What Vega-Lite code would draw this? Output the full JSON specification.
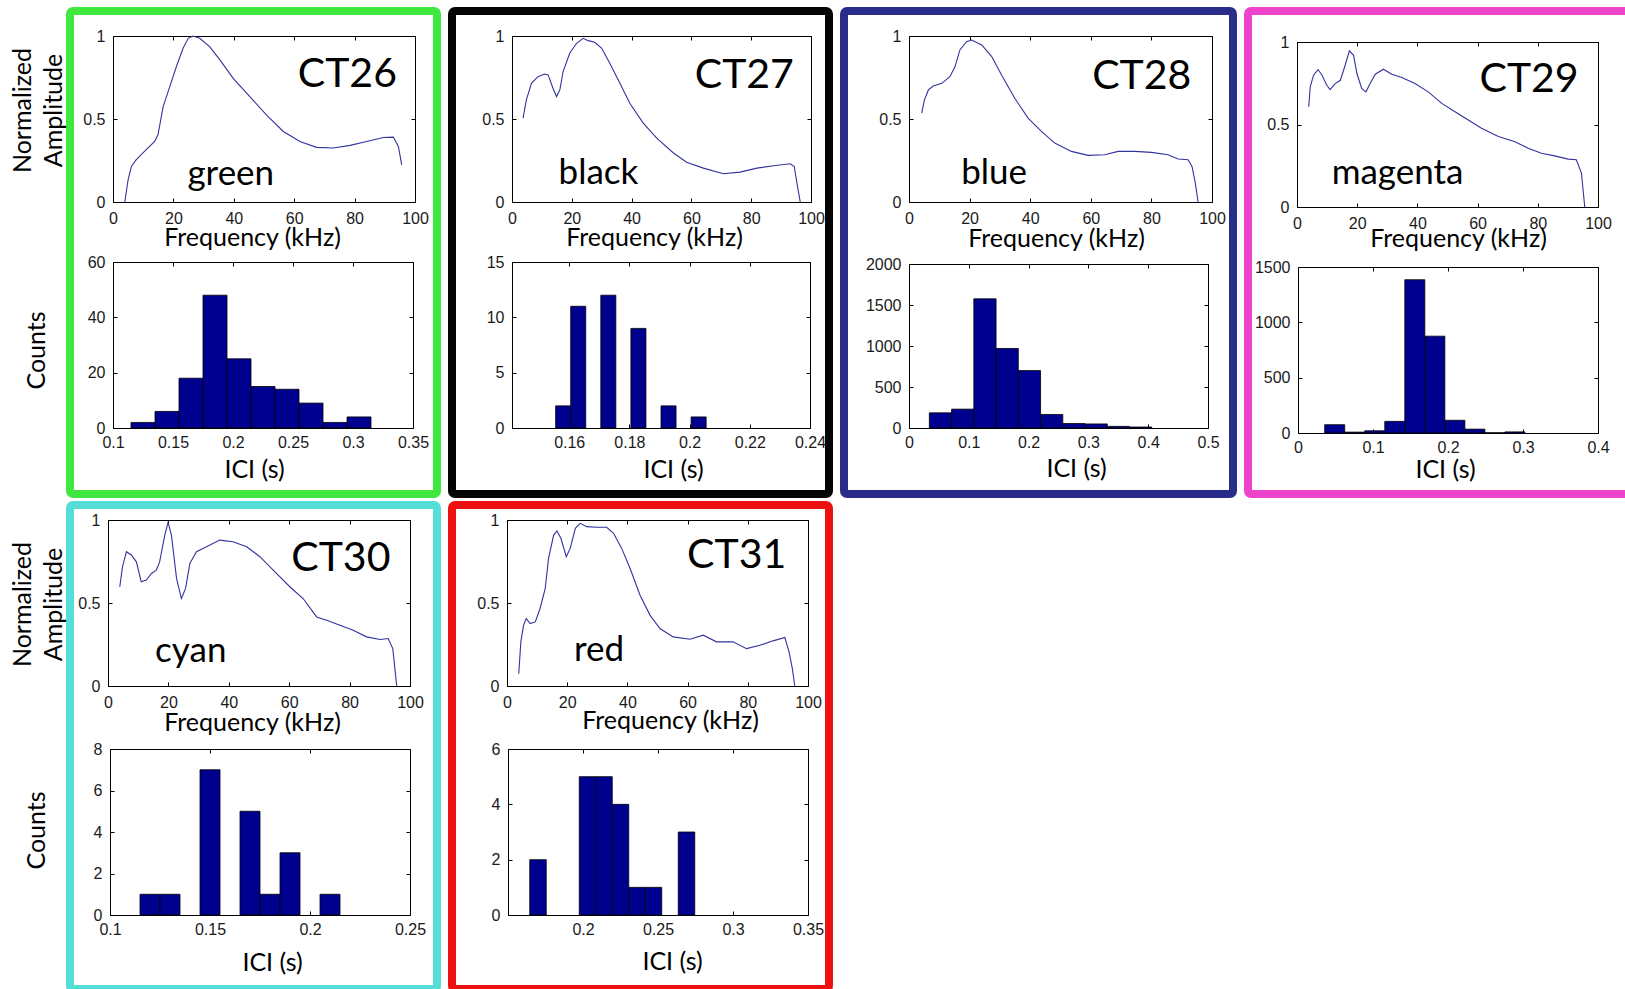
{
"$schema": "https://vega.github.io/schema/vega-lite/v6.json",
"background": "#ffffff",
"padding": {"left": 6, "top": 7, "right": 0, "bottom": 0},
"columns": 4,
"spacing": {"row": 11, "column": 15},
"bounds": "flush",
"align": "each",
"config": {
  "axis": {"grid": false, "domainColor": "#000", "domainWidth": 1, "tickColor": "#000", "tickSize": -4, "tickWidth": 1, "labelFont": "Liberation Sans", "labelFontSize": 16, "labelColor": "#1a1a1a", "labelPadding": 12, "labelFlush": false, "labelOverlap": false, "titleFont": "Lato", "titleFontSize": 25, "titleFontWeight": "normal", "titleColor": "#000"},
  "axisBottom": {"titleBaseline": "alphabetic", "titleAngle": 0, "titleAlign": "center"},
  "axisLeft": {"titleBaseline": "middle", "titleAngle": 270, "titleAlign": "center", "titleLineHeight": 31, "labelPadding": 12},
  "text": {"font": "Lato", "color": "#000", "align": "center", "baseline": "alphabetic"}
},
"concat": [
{
 "width": 367, "height": 483,
 "view": {"stroke": "#3fe73f", "strokeWidth": 8, "cornerRadius": 3},
 "resolve": {"scale": {"x": "independent", "y": "independent"}, "axis": {"x": "independent", "y": "independent"}},
 "layer": [
  {"resolve": {"axis": {"x": "independent", "y": "independent"}},
   "layer": [
    {"data": {"values": [{"f":3.9,"a":0},{"f":5.0,"a":0.134},{"f":6.1,"a":0.214},{"f":7.7,"a":0.255},{"f":11,"a":0.315},{"f":13.8,"a":0.365},{"f":14.9,"a":0.405},{"f":16.6,"a":0.575},{"f":18.8,"a":0.695},{"f":21,"a":0.816},{"f":23.2,"a":0.926},{"f":24.9,"a":0.986},{"f":26.5,"a":1.0},{"f":28.7,"a":0.986},{"f":32,"a":0.936},{"f":35.4,"a":0.856},{"f":39.8,"a":0.745},{"f":45.3,"a":0.635},{"f":50.8,"a":0.525},{"f":56.4,"a":0.425},{"f":61.9,"a":0.365},{"f":67.4,"a":0.329},{"f":72.9,"a":0.325},{"f":78.5,"a":0.341},{"f":84,"a":0.365},{"f":89.5,"a":0.389},{"f":92.8,"a":0.391},{"f":94.5,"a":0.335},{"f":95.6,"a":0.224}]},
     "mark": {"type": "line", "color": "#33339f", "strokeWidth": 1.1},
     "encoding": {
      "x": {"field": "f", "type": "quantitative", "scale": {"domain": [0, 100], "range": [43, 345], "nice": false, "zero": false}, "axis": {"orient": "bottom", "offset": -292, "values": [0,20,40,60,80,100], "format": ".6~g", "labelPadding": 12, "title": "Frequency (kHz)", "titleX": 182, "titleY": 43}},
      "y": {"field": "a", "type": "quantitative", "scale": {"domain": [0, 1], "range": [191, 25], "nice": false, "zero": false}, "axis": {"orient": "left", "offset": -43, "values": [0,0.5,1], "format": ".6~g", "title": ["Normalized", "Amplitude"], "titleX": -91, "titleY": 99}}
     }},
    {"data": {"values": [{}]},
     "mark": {"type": "text", "text": "CT26", "fontSize": 41},
     "encoding": {
      "x": {"datum": 77.6, "type": "quantitative", "scale": {"domain": [0, 100], "range": [43, 345], "nice": false, "zero": false}, "axis": {"orient": "top", "offset": -25, "values": [0,20,40,60,80,100], "labels": false, "title": null}},
      "y": {"datum": 0.691, "type": "quantitative", "scale": {"domain": [0, 1], "range": [191, 25], "nice": false, "zero": false}, "axis": {"orient": "right", "offset": -22, "values": [0,0.5,1], "labels": false, "title": null}}
     }},
    {"data": {"values": [{}]},
     "mark": {"type": "text", "text": "green", "fontSize": 35},
     "encoding": {"x": {"datum": 39, "type": "quantitative", "axis": null}, "y": {"datum": 0.102, "type": "quantitative", "axis": null}}}
   ]},
  {"resolve": {"axis": {"x": "independent", "y": "independent"}},
   "layer": [
    {"data": {"values": [{"x0":0.115,"x1":0.135,"n":2},{"x0":0.135,"x1":0.155,"n":6},{"x0":0.155,"x1":0.175,"n":18},{"x0":0.175,"x1":0.195,"n":48},{"x0":0.195,"x1":0.215,"n":25},{"x0":0.215,"x1":0.235,"n":15},{"x0":0.235,"x1":0.255,"n":14},{"x0":0.255,"x1":0.275,"n":9},{"x0":0.275,"x1":0.295,"n":2},{"x0":0.295,"x1":0.315,"n":4}]},
     "mark": {"type": "bar", "color": "#00008f", "stroke": "#000", "strokeWidth": 0.8},
     "encoding": {
      "x": {"field": "x0", "type": "quantitative", "scale": {"domain": [0.1, 0.35], "range": [43, 343], "nice": false, "zero": false}, "axis": {"orient": "bottom", "offset": -66, "values": [0.1,0.15,0.2,0.25,0.3,0.35], "format": ".6~g", "labelPadding": 10, "title": "ICI (s)", "titleX": 184, "titleY": 49}},
      "x2": {"field": "x1"},
      "y": {"field": "n", "type": "quantitative", "scale": {"domain": [0, 60], "range": [417, 251], "nice": false, "zero": false}, "axis": {"orient": "left", "offset": -43, "values": [0,20,40,60], "format": ".6~g", "title": "Counts", "titleX": -77, "titleY": 339}},
      "y2": {"datum": 0}
     }},
    {"data": {"values": [{}]},
     "mark": {"type": "text", "text": ""},
     "encoding": {
      "x": {"datum": 0.2, "type": "quantitative", "scale": {"domain": [0.1, 0.35], "range": [43, 343], "nice": false, "zero": false}, "axis": {"orient": "top", "offset": -251, "values": [0.1,0.15,0.2,0.25,0.3,0.35], "labels": false, "title": null}},
      "y": {"datum": 0, "type": "quantitative", "scale": {"domain": [0, 60], "range": [417, 251], "nice": false, "zero": false}, "axis": {"orient": "right", "offset": -24, "values": [0,20,40,60], "labels": false, "title": null}}
     }}
   ]}
 ]
},
{
 "width": 377, "height": 483,
 "view": {"stroke": "#050505", "strokeWidth": 8, "cornerRadius": 3},
 "resolve": {"scale": {"x": "independent", "y": "independent"}, "axis": {"x": "independent", "y": "independent"}},
 "layer": [
  {"resolve": {"axis": {"x": "independent", "y": "independent"}},
   "layer": [
    {"data": {"values": [{"f":3.7,"a":0.505},{"f":4.8,"a":0.615},{"f":6.5,"a":0.715},{"f":8.7,"a":0.755},{"f":10.9,"a":0.771},{"f":12.1,"a":0.766},{"f":13.7,"a":0.685},{"f":14.9,"a":0.635},{"f":16,"a":0.675},{"f":17.1,"a":0.786},{"f":19.3,"a":0.896},{"f":21.6,"a":0.956},{"f":23.8,"a":0.986},{"f":25.5,"a":0.972},{"f":27.7,"a":0.962},{"f":30,"a":0.926},{"f":32.7,"a":0.836},{"f":36.1,"a":0.715},{"f":39.4,"a":0.595},{"f":43.9,"a":0.475},{"f":48.4,"a":0.385},{"f":54,"a":0.295},{"f":58.4,"a":0.24},{"f":64,"a":0.204},{"f":70.7,"a":0.17},{"f":76.3,"a":0.18},{"f":81.9,"a":0.204},{"f":87.5,"a":0.218},{"f":93,"a":0.23},{"f":94.4,"a":0.214},{"f":95.3,"a":0.114},{"f":96.4,"a":0}]},
     "mark": {"type": "line", "color": "#33339f", "strokeWidth": 1.1},
     "encoding": {
      "x": {"field": "f", "type": "quantitative", "scale": {"domain": [0, 100], "range": [60, 359], "nice": false, "zero": false}, "axis": {"orient": "bottom", "offset": -292, "values": [0,20,40,60,80,100], "format": ".6~g", "labelPadding": 12, "title": "Frequency (kHz)", "titleX": 202, "titleY": 43}},
      "y": {"field": "a", "type": "quantitative", "scale": {"domain": [0, 1], "range": [191, 25], "nice": false, "zero": false}, "axis": {"orient": "left", "offset": -60, "values": [0,0.5,1], "format": ".6~g", "title": null}}
     }},
    {"data": {"values": [{}]},
     "mark": {"type": "text", "text": "CT27", "fontSize": 41},
     "encoding": {
      "x": {"datum": 77.7, "type": "quantitative", "scale": {"domain": [0, 100], "range": [60, 359], "nice": false, "zero": false}, "axis": {"orient": "top", "offset": -25, "values": [0,20,40,60,80,100], "labels": false, "title": null}},
      "y": {"datum": 0.685, "type": "quantitative", "scale": {"domain": [0, 1], "range": [191, 25], "nice": false, "zero": false}, "axis": {"orient": "right", "offset": -18, "values": [0,0.5,1], "labels": false, "title": null}}
     }},
    {"data": {"values": [{}]},
     "mark": {"type": "text", "text": "black", "fontSize": 35},
     "encoding": {"x": {"datum": 28.9, "type": "quantitative", "axis": null}, "y": {"datum": 0.107, "type": "quantitative", "axis": null}}}
   ]},
  {"resolve": {"axis": {"x": "independent", "y": "independent"}},
   "layer": [
    {"data": {"values": [{"x0":0.1555,"x1":0.1605,"n":2},{"x0":0.1605,"x1":0.1655,"n":11},{"x0":0.1705,"x1":0.1755,"n":12},{"x0":0.1805,"x1":0.1855,"n":9},{"x0":0.1905,"x1":0.1955,"n":2},{"x0":0.2005,"x1":0.2055,"n":1}]},
     "mark": {"type": "bar", "color": "#00008f", "stroke": "#000", "strokeWidth": 0.8},
     "encoding": {
      "x": {"field": "x0", "type": "quantitative", "scale": {"domain": [0.141, 0.24], "range": [60, 358], "nice": false, "zero": false}, "axis": {"orient": "bottom", "offset": -66, "values": [0.16,0.18,0.2,0.22,0.24], "format": ".6~g", "labelPadding": 10, "title": "ICI (s)", "titleX": 221, "titleY": 49}},
      "x2": {"field": "x1"},
      "y": {"field": "n", "type": "quantitative", "scale": {"domain": [0, 15], "range": [417, 251], "nice": false, "zero": false}, "axis": {"orient": "left", "offset": -60, "values": [0,5,10,15], "format": ".6~g", "title": null}},
      "y2": {"datum": 0}
     }},
    {"data": {"values": [{}]},
     "mark": {"type": "text", "text": ""},
     "encoding": {
      "x": {"datum": 0.2, "type": "quantitative", "scale": {"domain": [0.141, 0.24], "range": [60, 358], "nice": false, "zero": false}, "axis": {"orient": "top", "offset": -251, "values": [0.16,0.18,0.2,0.22,0.24], "labels": false, "title": null}},
      "y": {"datum": 0, "type": "quantitative", "scale": {"domain": [0, 15], "range": [417, 251], "nice": false, "zero": false}, "axis": {"orient": "right", "offset": -19, "values": [0,5,10,15], "labels": false, "title": null}}
     }}
   ]}
 ]
},
{
 "width": 389, "height": 483,
 "view": {"stroke": "#2a2c8a", "strokeWidth": 8, "cornerRadius": 3},
 "resolve": {"scale": {"x": "independent", "y": "independent"}, "axis": {"x": "independent", "y": "independent"}},
 "layer": [
  {"resolve": {"axis": {"x": "independent", "y": "independent"}},
   "layer": [
    {"data": {"values": [{"f":4.2,"a":0.535},{"f":5.1,"a":0.615},{"f":6.4,"a":0.675},{"f":8,"a":0.699},{"f":10.8,"a":0.715},{"f":13.5,"a":0.755},{"f":15.2,"a":0.816},{"f":16.8,"a":0.916},{"f":19,"a":0.966},{"f":20.7,"a":0.976},{"f":24,"a":0.946},{"f":27.3,"a":0.876},{"f":30.5,"a":0.766},{"f":34.9,"a":0.625},{"f":39.3,"a":0.505},{"f":43.7,"a":0.425},{"f":48.1,"a":0.355},{"f":53.6,"a":0.305},{"f":59.1,"a":0.281},{"f":64.6,"a":0.285},{"f":69,"a":0.305},{"f":74.5,"a":0.305},{"f":80,"a":0.299},{"f":85.5,"a":0.285},{"f":88.8,"a":0.259},{"f":92.1,"a":0.255},{"f":93.4,"a":0.214},{"f":94.5,"a":0.114},{"f":95.4,"a":0}]},
     "mark": {"type": "line", "color": "#33339f", "strokeWidth": 1.1},
     "encoding": {
      "x": {"field": "f", "type": "quantitative", "scale": {"domain": [0, 100], "range": [65, 368], "nice": false, "zero": false}, "axis": {"orient": "bottom", "offset": -292, "values": [0,20,40,60,80,100], "format": ".6~g", "labelPadding": 12, "title": "Frequency (kHz)", "titleX": 212, "titleY": 44}},
      "y": {"field": "a", "type": "quantitative", "scale": {"domain": [0, 1], "range": [191, 25], "nice": false, "zero": false}, "axis": {"orient": "left", "offset": -65, "values": [0,0.5,1], "format": ".6~g", "title": null}}
     }},
    {"data": {"values": [{}]},
     "mark": {"type": "text", "text": "CT28", "fontSize": 41},
     "encoding": {
      "x": {"datum": 76.8, "type": "quantitative", "scale": {"domain": [0, 100], "range": [65, 368], "nice": false, "zero": false}, "axis": {"orient": "top", "offset": -25, "values": [0,20,40,60,80,100], "labels": false, "title": null}},
      "y": {"datum": 0.679, "type": "quantitative", "scale": {"domain": [0, 1], "range": [191, 25], "nice": false, "zero": false}, "axis": {"orient": "right", "offset": -21, "values": [0,0.5,1], "labels": false, "title": null}}
     }},
    {"data": {"values": [{}]},
     "mark": {"type": "text", "text": "blue", "fontSize": 35},
     "encoding": {"x": {"datum": 28.1, "type": "quantitative", "axis": null}, "y": {"datum": 0.107, "type": "quantitative", "axis": null}}}
   ]},
  {"resolve": {"axis": {"x": "independent", "y": "independent"}},
   "layer": [
    {"data": {"values": [{"x0":0.034,"x1":0.0712,"n":185},{"x0":0.0712,"x1":0.1084,"n":230},{"x0":0.1084,"x1":0.1456,"n":1575},{"x0":0.1456,"x1":0.1828,"n":970},{"x0":0.1828,"x1":0.22,"n":700},{"x0":0.22,"x1":0.2572,"n":165},{"x0":0.2572,"x1":0.2944,"n":55},{"x0":0.2944,"x1":0.3316,"n":50},{"x0":0.3316,"x1":0.3688,"n":20},{"x0":0.3688,"x1":0.406,"n":12}]},
     "mark": {"type": "bar", "color": "#00008f", "stroke": "#000", "strokeWidth": 0.8},
     "encoding": {
      "x": {"field": "x0", "type": "quantitative", "scale": {"domain": [0, 0.5], "range": [65, 364], "nice": false, "zero": false}, "axis": {"orient": "bottom", "offset": -66, "values": [0,0.1,0.2,0.3,0.4,0.5], "format": ".6~g", "labelPadding": 10, "title": "ICI (s)", "titleX": 232, "titleY": 48}},
      "x2": {"field": "x1"},
      "y": {"field": "n", "type": "quantitative", "scale": {"domain": [0, 2000], "range": [417, 253], "nice": false, "zero": false}, "axis": {"orient": "left", "offset": -65, "values": [0,500,1000,1500,2000], "format": ".6~g", "title": null}},
      "y2": {"datum": 0}
     }},
    {"data": {"values": [{}]},
     "mark": {"type": "text", "text": ""},
     "encoding": {
      "x": {"datum": 0.2, "type": "quantitative", "scale": {"domain": [0, 0.5], "range": [65, 364], "nice": false, "zero": false}, "axis": {"orient": "top", "offset": -253, "values": [0,0.1,0.2,0.3,0.4,0.5], "labels": false, "title": null}},
      "y": {"datum": 0, "type": "quantitative", "scale": {"domain": [0, 2000], "range": [417, 253], "nice": false, "zero": false}, "axis": {"orient": "right", "offset": -25, "values": [0,500,1000,1500,2000], "labels": false, "title": null}}
     }}
   ]}
 ]
},
{
 "width": 381, "height": 483,
 "view": {"stroke": "#ee44cc", "strokeWidth": 8, "cornerRadius": 3},
 "resolve": {"scale": {"x": "independent", "y": "independent"}, "axis": {"x": "independent", "y": "independent"}},
 "layer": [
  {"resolve": {"axis": {"x": "independent", "y": "independent"}},
   "layer": [
    {"data": {"values": [{"f":3.9,"a":0.608},{"f":4.4,"a":0.728},{"f":5.5,"a":0.799},{"f":7,"a":0.833},{"f":8.3,"a":0.799},{"f":9.9,"a":0.738},{"f":11,"a":0.712},{"f":12.7,"a":0.748},{"f":14.4,"a":0.768},{"f":16,"a":0.859},{"f":17.4,"a":0.946},{"f":18.8,"a":0.919},{"f":19.9,"a":0.809},{"f":21.5,"a":0.718},{"f":22.9,"a":0.698},{"f":24.3,"a":0.748},{"f":26,"a":0.805},{"f":28.7,"a":0.835},{"f":31.5,"a":0.805},{"f":34.8,"a":0.785},{"f":39.2,"a":0.748},{"f":43.6,"a":0.698},{"f":48.1,"a":0.628},{"f":52.5,"a":0.577},{"f":56.9,"a":0.527},{"f":61.3,"a":0.477},{"f":66.9,"a":0.427},{"f":72.4,"a":0.396},{"f":76.8,"a":0.356},{"f":81.2,"a":0.326},{"f":85.6,"a":0.31},{"f":90.1,"a":0.29},{"f":92.8,"a":0.286},{"f":94.5,"a":0.205},{"f":95.6,"a":0}]},
     "mark": {"type": "line", "color": "#33339f", "strokeWidth": 1.1},
     "encoding": {
      "x": {"field": "f", "type": "quantitative", "scale": {"domain": [0, 100], "range": [49, 350], "nice": false, "zero": false}, "axis": {"orient": "bottom", "offset": -287, "values": [0,20,40,60,80,100], "format": ".6~g", "labelPadding": 12, "title": "Frequency (kHz)", "titleX": 210, "titleY": 39}},
      "y": {"field": "a", "type": "quantitative", "scale": {"domain": [0, 1], "range": [196, 31], "nice": false, "zero": false}, "axis": {"orient": "left", "offset": -49, "values": [0,0.5,1], "format": ".6~g", "title": null}}
     }},
    {"data": {"values": [{}]},
     "mark": {"type": "text", "text": "CT29", "fontSize": 41},
     "encoding": {
      "x": {"datum": 77.1, "type": "quantitative", "scale": {"domain": [0, 100], "range": [49, 350], "nice": false, "zero": false}, "axis": {"orient": "top", "offset": -31, "values": [0,20,40,60,80,100], "labels": false, "title": null}},
      "y": {"datum": 0.698, "type": "quantitative", "scale": {"domain": [0, 1], "range": [196, 31], "nice": false, "zero": false}, "axis": {"orient": "right", "offset": -31, "values": [0,0.5,1], "labels": false, "title": null}}
     }},
    {"data": {"values": [{}]},
     "mark": {"type": "text", "text": "magenta", "fontSize": 35},
     "encoding": {"x": {"datum": 33.4, "type": "quantitative", "axis": null}, "y": {"datum": 0.139, "type": "quantitative", "axis": null}}}
   ]},
  {"resolve": {"axis": {"x": "independent", "y": "independent"}},
   "layer": [
    {"data": {"values": [{"x0":0.0356,"x1":0.0623,"n":75},{"x0":0.0623,"x1":0.089,"n":8},{"x0":0.089,"x1":0.1157,"n":20},{"x0":0.1157,"x1":0.1424,"n":105},{"x0":0.1424,"x1":0.1691,"n":1385},{"x0":0.1691,"x1":0.1958,"n":875},{"x0":0.1958,"x1":0.2225,"n":115},{"x0":0.2225,"x1":0.2492,"n":35},{"x0":0.2492,"x1":0.2759,"n":2},{"x0":0.2759,"x1":0.3026,"n":10}]},
     "mark": {"type": "bar", "color": "#00008f", "stroke": "#000", "strokeWidth": 0.8},
     "encoding": {
      "x": {"field": "x0", "type": "quantitative", "scale": {"domain": [0, 0.4], "range": [50, 350], "nice": false, "zero": false}, "axis": {"orient": "bottom", "offset": -61, "values": [0,0.1,0.2,0.3,0.4], "format": ".6~g", "labelPadding": 10, "title": "ICI (s)", "titleX": 197, "titleY": 44}},
      "x2": {"field": "x1"},
      "y": {"field": "n", "type": "quantitative", "scale": {"domain": [0, 1500], "range": [422, 256], "nice": false, "zero": false}, "axis": {"orient": "left", "offset": -50, "values": [0,500,1000,1500], "format": ".6~g", "title": null}},
      "y2": {"datum": 0}
     }},
    {"data": {"values": [{}]},
     "mark": {"type": "text", "text": ""},
     "encoding": {
      "x": {"datum": 0.2, "type": "quantitative", "scale": {"domain": [0, 0.4], "range": [50, 350], "nice": false, "zero": false}, "axis": {"orient": "top", "offset": -256, "values": [0,0.1,0.2,0.3,0.4], "labels": false, "title": null}},
      "y": {"datum": 0, "type": "quantitative", "scale": {"domain": [0, 1500], "range": [422, 256], "nice": false, "zero": false}, "axis": {"orient": "right", "offset": -31, "values": [0,500,1000,1500], "labels": false, "title": null}}
     }}
   ]}
 ]
},
{
 "width": 367, "height": 484,
 "view": {"stroke": "#55ddd8", "strokeWidth": 8, "cornerRadius": 3},
 "resolve": {"scale": {"x": "independent", "y": "independent"}, "axis": {"x": "independent", "y": "independent"}},
 "layer": [
  {"resolve": {"axis": {"x": "independent", "y": "independent"}},
   "layer": [
    {"data": {"values": [{"f":3.9,"a":0.598},{"f":4.8,"a":0.718},{"f":6.1,"a":0.809},{"f":7.7,"a":0.789},{"f":9.4,"a":0.748},{"f":11,"a":0.628},{"f":12.7,"a":0.638},{"f":14.4,"a":0.678},{"f":16,"a":0.698},{"f":17.1,"a":0.748},{"f":18.8,"a":0.909},{"f":19.9,"a":0.986},{"f":21,"a":0.909},{"f":22.7,"a":0.648},{"f":24.3,"a":0.527},{"f":25.7,"a":0.588},{"f":27.1,"a":0.738},{"f":29.3,"a":0.809},{"f":32.6,"a":0.839},{"f":37,"a":0.879},{"f":41.4,"a":0.869},{"f":45.9,"a":0.839},{"f":50.3,"a":0.779},{"f":54.7,"a":0.698},{"f":60.2,"a":0.598},{"f":64.6,"a":0.527},{"f":69.1,"a":0.416},{"f":72.4,"a":0.396},{"f":76.8,"a":0.366},{"f":81.2,"a":0.336},{"f":85.6,"a":0.296},{"f":90.1,"a":0.28},{"f":92.8,"a":0.286},{"f":94.3,"a":0.225},{"f":95,"a":0.105},{"f":95.6,"a":0}]},
     "mark": {"type": "line", "color": "#33339f", "strokeWidth": 1.1},
     "encoding": {
      "x": {"field": "f", "type": "quantitative", "scale": {"domain": [0, 100], "range": [38, 340], "nice": false, "zero": false}, "axis": {"orient": "bottom", "offset": -303, "values": [0,20,40,60,80,100], "format": ".6~g", "labelPadding": 12, "title": "Frequency (kHz)", "titleX": 182, "titleY": 44}},
      "y": {"field": "a", "type": "quantitative", "scale": {"domain": [0, 1], "range": [181, 15], "nice": false, "zero": false}, "axis": {"orient": "left", "offset": -38, "values": [0,0.5,1], "format": ".6~g", "title": ["Normalized", "Amplitude"], "titleX": -86, "titleY": 99}}
     }},
    {"data": {"values": [{}]},
     "mark": {"type": "text", "text": "CT30", "fontSize": 41},
     "encoding": {
      "x": {"datum": 77.1, "type": "quantitative", "scale": {"domain": [0, 100], "range": [38, 340], "nice": false, "zero": false}, "axis": {"orient": "top", "offset": -15, "values": [0,20,40,60,80,100], "labels": false, "title": null}},
      "y": {"datum": 0.692, "type": "quantitative", "scale": {"domain": [0, 1], "range": [181, 15], "nice": false, "zero": false}, "axis": {"orient": "right", "offset": -27, "values": [0,0.5,1], "labels": false, "title": null}}
     }},
    {"data": {"values": [{}]},
     "mark": {"type": "text", "text": "cyan", "fontSize": 35},
     "encoding": {"x": {"datum": 27.4, "type": "quantitative", "axis": null}, "y": {"datum": 0.145, "type": "quantitative", "axis": null}}}
   ]},
  {"resolve": {"axis": {"x": "independent", "y": "independent"}},
   "layer": [
    {"data": {"values": [{"x0":0.115,"x1":0.125,"n":1},{"x0":0.125,"x1":0.135,"n":1},{"x0":0.145,"x1":0.155,"n":7},{"x0":0.165,"x1":0.175,"n":5},{"x0":0.175,"x1":0.185,"n":1},{"x0":0.185,"x1":0.195,"n":3},{"x0":0.205,"x1":0.215,"n":1}]},
     "mark": {"type": "bar", "color": "#00008f", "stroke": "#000", "strokeWidth": 0.8},
     "encoding": {
      "x": {"field": "x0", "type": "quantitative", "scale": {"domain": [0.1, 0.25], "range": [40, 340], "nice": false, "zero": false}, "axis": {"orient": "bottom", "offset": -74, "values": [0.1,0.15,0.2,0.25], "format": ".6~g", "labelPadding": 10, "title": "ICI (s)", "titleX": 202, "titleY": 55}},
      "x2": {"field": "x1"},
      "y": {"field": "n", "type": "quantitative", "scale": {"domain": [0, 8], "range": [410, 244], "nice": false, "zero": false}, "axis": {"orient": "left", "offset": -40, "values": [0,2,4,6,8], "format": ".6~g", "title": "Counts", "titleX": -74, "titleY": 325}},
      "y2": {"datum": 0}
     }},
    {"data": {"values": [{}]},
     "mark": {"type": "text", "text": ""},
     "encoding": {
      "x": {"datum": 0.2, "type": "quantitative", "scale": {"domain": [0.1, 0.25], "range": [40, 340], "nice": false, "zero": false}, "axis": {"orient": "top", "offset": -244, "values": [0.1,0.15,0.2,0.25], "labels": false, "title": null}},
      "y": {"datum": 0, "type": "quantitative", "scale": {"domain": [0, 8], "range": [410, 244], "nice": false, "zero": false}, "axis": {"orient": "right", "offset": -27, "values": [0,2,4,6,8], "labels": false, "title": null}}
     }}
   ]}
 ]
},
{
 "width": 377, "height": 484,
 "view": {"stroke": "#ee1111", "strokeWidth": 8, "cornerRadius": 3},
 "resolve": {"scale": {"x": "independent", "y": "independent"}, "axis": {"x": "independent", "y": "independent"}},
 "layer": [
  {"resolve": {"axis": {"x": "independent", "y": "independent"}},
   "layer": [
    {"data": {"values": [{"f":3.9,"a":0.074},{"f":4.6,"a":0.266},{"f":5.5,"a":0.366},{"f":6.4,"a":0.406},{"f":7.7,"a":0.376},{"f":9.4,"a":0.386},{"f":11,"a":0.467},{"f":12.7,"a":0.588},{"f":13.8,"a":0.769},{"f":15.5,"a":0.909},{"f":16.6,"a":0.934},{"f":17.9,"a":0.89},{"f":19.7,"a":0.779},{"f":21,"a":0.829},{"f":22.7,"a":0.95},{"f":24.3,"a":0.98},{"f":26.5,"a":0.96},{"f":29.8,"a":0.956},{"f":33.1,"a":0.956},{"f":35.4,"a":0.92},{"f":38.1,"a":0.829},{"f":40.9,"a":0.708},{"f":44.2,"a":0.547},{"f":47.5,"a":0.427},{"f":50.8,"a":0.346},{"f":55.2,"a":0.296},{"f":60.8,"a":0.282},{"f":65.2,"a":0.306},{"f":69.6,"a":0.266},{"f":75.1,"a":0.266},{"f":79.6,"a":0.225},{"f":84,"a":0.245},{"f":88.4,"a":0.272},{"f":92.3,"a":0.292},{"f":93.7,"a":0.205},{"f":94.8,"a":0.105},{"f":95.6,"a":0}]},
     "mark": {"type": "line", "color": "#33339f", "strokeWidth": 1.1},
     "encoding": {
      "x": {"field": "f", "type": "quantitative", "scale": {"domain": [0, 100], "range": [55, 356], "nice": false, "zero": false}, "axis": {"orient": "bottom", "offset": -303, "values": [0,20,40,60,80,100], "format": ".6~g", "labelPadding": 12, "title": "Frequency (kHz)", "titleX": 218, "titleY": 42}},
      "y": {"field": "a", "type": "quantitative", "scale": {"domain": [0, 1], "range": [181, 15], "nice": false, "zero": false}, "axis": {"orient": "left", "offset": -55, "values": [0,0.5,1], "format": ".6~g", "title": null}}
     }},
    {"data": {"values": [{}]},
     "mark": {"type": "text", "text": "CT31", "fontSize": 41},
     "encoding": {
      "x": {"datum": 76.3, "type": "quantitative", "scale": {"domain": [0, 100], "range": [55, 356], "nice": false, "zero": false}, "axis": {"orient": "top", "offset": -15, "values": [0,20,40,60,80,100], "labels": false, "title": null}},
      "y": {"datum": 0.708, "type": "quantitative", "scale": {"domain": [0, 1], "range": [181, 15], "nice": false, "zero": false}, "axis": {"orient": "right", "offset": -21, "values": [0,0.5,1], "labels": false, "title": null}}
     }},
    {"data": {"values": [{}]},
     "mark": {"type": "text", "text": "red", "fontSize": 35},
     "encoding": {"x": {"datum": 30.6, "type": "quantitative", "axis": null}, "y": {"datum": 0.151, "type": "quantitative", "axis": null}}}
   ]},
  {"resolve": {"axis": {"x": "independent", "y": "independent"}},
   "layer": [
    {"data": {"values": [{"x0":0.1645,"x1":0.1755,"n":2},{"x0":0.1975,"x1":0.2085,"n":5},{"x0":0.2085,"x1":0.2195,"n":5},{"x0":0.2195,"x1":0.2305,"n":4},{"x0":0.2305,"x1":0.2415,"n":1},{"x0":0.2415,"x1":0.2525,"n":1},{"x0":0.2635,"x1":0.2745,"n":3}]},
     "mark": {"type": "bar", "color": "#00008f", "stroke": "#000", "strokeWidth": 0.8},
     "encoding": {
      "x": {"field": "x0", "type": "quantitative", "scale": {"domain": [0.15, 0.35], "range": [56, 356], "nice": false, "zero": false}, "axis": {"orient": "bottom", "offset": -74, "values": [0.2,0.25,0.3,0.35], "format": ".6~g", "labelPadding": 10, "title": "ICI (s)", "titleX": 220, "titleY": 54}},
      "x2": {"field": "x1"},
      "y": {"field": "n", "type": "quantitative", "scale": {"domain": [0, 6], "range": [410, 244], "nice": false, "zero": false}, "axis": {"orient": "left", "offset": -56, "values": [0,2,4,6], "format": ".6~g", "title": null}},
      "y2": {"datum": 0}
     }},
    {"data": {"values": [{}]},
     "mark": {"type": "text", "text": ""},
     "encoding": {
      "x": {"datum": 0.2, "type": "quantitative", "scale": {"domain": [0.15, 0.35], "range": [56, 356], "nice": false, "zero": false}, "axis": {"orient": "top", "offset": -244, "values": [0.2,0.25,0.3,0.35], "labels": false, "title": null}},
      "y": {"datum": 0, "type": "quantitative", "scale": {"domain": [0, 6], "range": [410, 244], "nice": false, "zero": false}, "axis": {"orient": "right", "offset": -21, "values": [0,2,4,6], "labels": false, "title": null}}
     }}
   ]}
 ]
}
]
}
